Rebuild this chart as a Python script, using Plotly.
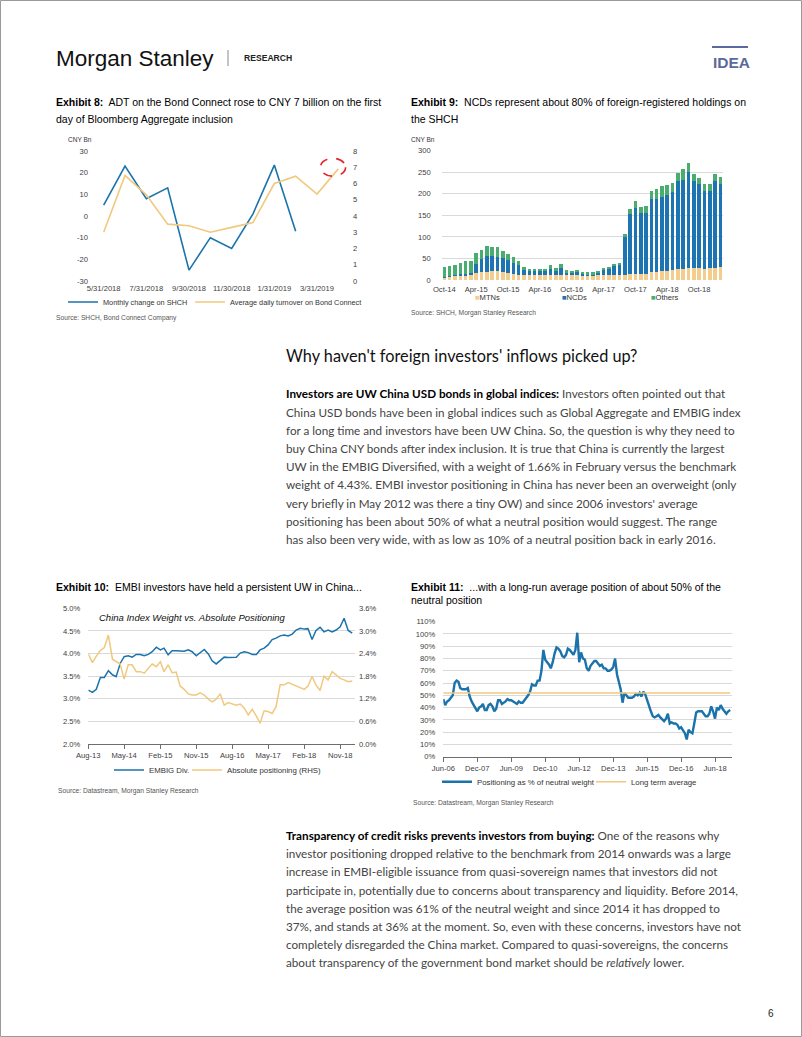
import plotly.graph_objects as go
import pandas as pd

W, H = 802, 1037


def px(x):
    return x / W


def py(y):
    return 1 - y / H


# ---------------- DATA ----------------
# Exhibit 8
ex8_dates = ["5/31/2018", "6/30/2018", "7/31/2018", "8/31/2018", "9/30/2018", "10/31/2018",
             "11/30/2018", "12/31/2018", "1/31/2019", "2/28/2019", "3/31/2019", "4/30/2019"]
ex8_shch_change = [5, 23, 8, 13, -25, -10, -15, 1, 23.5, -7, None, None]
ex8_daily_turnover = [3.0, 6.5, 5.3, 3.5, 3.4, 3.0, 3.3, 3.6, 6.0, 6.45, 5.35, 6.9]
ex8_left_ticks = [-30, -20, -10, 0, 10, 20, 30]
ex8_right_ticks = [0, 1, 2, 3, 4, 5, 6, 7, 8]

# Exhibit 9 (monthly, Oct-14 .. Feb-19)
ex9_months = pd.date_range("2014-10-01", periods=53, freq="MS").strftime("%b-%y").tolist()
ex9_mtns = [7, 8, 10, 11, 12, 13, 17, 18, 19, 21, 21, 19, 17, 14, 12, 12, 11, 11, 11, 11, 11, 11, 11, 11, 11, 11,
            10, 11, 11, 12, 12, 12, 12, 12, 12, 13, 13, 14, 15, 18, 19, 20, 22, 23, 25, 26, 28, 28, 28, 26, 27,
            28, 30]
ex9_ncds = [1, 1, 1, 2, 2, 3, 20, 30, 37, 35, 33, 32, 29, 25, 22, 11, 11, 9, 9, 9, 15, 11, 17, 8, 8, 7,
            6, 3, 3, 5, 12, 13, 21, 22, 88, 140, 155, 142, 140, 170, 169, 172, 176, 181, 204, 206, 222, 202,
            194, 181, 180, 201, 193]
ex9_others = [23, 23, 24, 27, 29, 28, 25, 21, 22, 21, 22, 16, 14, 14, 11, 7, 4, 5, 5, 5, 8, 6, 9, 4, 3, 5,
              3, 4, 4, 4, 5, 5, 5, 5, 6, 11, 15, 14, 17, 19, 22, 25, 23, 22, 20, 25, 21, 17, 14, 15, 15, 17, 15]
ex9_ticks = ["Oct-14", "Apr-15", "Oct-15", "Apr-16", "Oct-16", "Apr-17", "Oct-17", "Apr-18", "Oct-18"]

# Exhibit 10 (monthly, Aug-13 .. Feb-19)
ex10_embig = [3.19, 3.14, 3.21, 3.47, 3.47, 3.62, 3.53, 3.49, 3.78, 3.93,
              3.95, 3.92, 3.98, 3.98, 3.95, 3.98, 4.04, 4.14, 4.08, 4.12,
              3.97, 4.06, 4.06, 4.06, 4.05, 4.08, 4.04, 3.95, 4.01, 4.09,
              3.99, 3.84, 3.77, 3.84, 3.92, 3.91, 3.92, 3.92, 4.01, 4.04,
              4.02, 3.98, 3.98, 4.08, 4.12, 4.19, 4.31, 4.34, 4.39, 4.41,
              4.39, 4.43, 4.52, 4.56, 4.54, 4.55, 4.31, 4.51, 4.58, 4.48,
              4.52, 4.48, 4.52, 4.59, 4.78, 4.51, 4.45]
ex10_abs_pos = [2.39, 2.16, 2.33, 2.48, 2.56, 2.89, 2.25, 2.18, 2.12, 1.72,
                2.10, 2.10, 1.92, 1.92, 1.88, 2.01, 2.12, 2.05, 2.18, 1.92,
                2.10, 1.89, 1.91, 1.54, 1.45, 1.33, 1.30, 1.30, 1.36, 1.30,
                1.19, 1.12, 1.19, 1.33, 1.03, 1.10, 1.06, 1.03, 1.06, 0.95,
                0.77, 0.92, 0.74, 0.55, 0.88, 0.86, 0.81, 0.99, 1.57, 1.57,
                1.63, 1.58, 1.54, 1.50, 1.45, 1.54, 1.79, 1.57, 1.42, 1.80,
                1.70, 1.92, 1.83, 1.74, 1.70, 1.65, 1.67]
ex10_dates = pd.date_range("2013-08-01", periods=len(ex10_embig), freq="MS")

# Exhibit 11 (monthly, Jun-06 .. Feb-19)
ex11_positioning = [47, 42, 45, 46, 48, 50, 60, 62, 61, 56, 55, 55, 55, 56, 49, 45, 42, 39, 37, 40,
                    41, 43, 38, 38, 42, 43, 41, 37, 39, 46, 46, 43, 44, 45, 47, 46, 46, 45, 44, 43,
                    45, 44, 44, 46, 48, 50, 53, 59, 58, 58, 62, 62, 70, 87, 79, 77, 75, 72, 77, 84,
                    89, 88, 86, 82, 81, 83, 88, 87, 85, 83, 87, 101, 77, 85, 80, 79, 72, 70, 74, 76,
                    78, 78, 76, 74, 75, 72, 72, 70, 70, 71, 73, 80, 67, 62, 55, 44, 52, 50, 48, 48,
                    48, 49, 51, 50, 52, 49, 53, 51, 46, 40, 37, 33, 32, 33, 34, 32, 30, 29, 31, 35,
                    27, 28, 27, 27, 26, 23, 24, 21, 19, 14, 22, 20, 19, 27, 36, 37, 37, 37, 35, 33,
                    33, 35, 41, 37, 31, 40, 38, 42, 39, 37, 35, 37, 38]
ex11_long_term_avg = 51.9
ex11_dates = pd.date_range("2006-06-01", periods=len(ex11_positioning), freq="MS")

# ---------------- STYLE ----------------
BLUE = "#1B73AC"
GOLD = "#F0C97E"
MTN_C = "#F2CD8D"
NCD_C = "#1C74B3"
OTH_C = "#48AD6F"
GRID = "#D9D9D9"
AX = "#6E6E6E"
ARIAL = "Liberation Sans, Arial, Helvetica, sans-serif"
BODY = "Lato, Open Sans, sans-serif"
TICKF = dict(family=ARIAL, size=7.6, color="#404040")

fig = go.Figure()

# Exhibit 8
fig.add_trace(go.Scatter(x=ex8_dates, y=ex8_shch_change, mode="lines", name="Monthly change on SHCH",
                         line=dict(color=BLUE, width=1.6), xaxis="x", yaxis="y", legend="legend"))
fig.add_trace(go.Scatter(x=ex8_dates, y=ex8_daily_turnover, mode="lines",
                         name="Average daily turnover on Bond Connect",
                         line=dict(color=GOLD, width=1.6), xaxis="x", yaxis="y2", legend="legend2"))

# Exhibit 9
for vals, nm, col in [(ex9_mtns, "MTNs", MTN_C), (ex9_ncds, "NCDs", NCD_C), (ex9_others, "Others", OTH_C)]:
    fig.add_trace(go.Bar(x=ex9_months, y=vals, name=nm, marker=dict(color=col, line=dict(width=0)),
                         xaxis="x2", yaxis="y3", showlegend=False))

# Exhibit 10
fig.add_trace(go.Scatter(x=ex10_dates, y=ex10_embig, mode="lines", name="EMBIG Div.",
                         line=dict(color=BLUE, width=1.5), xaxis="x3", yaxis="y4", legend="legend3"))
fig.add_trace(go.Scatter(x=ex10_dates, y=ex10_abs_pos, mode="lines", name="Absolute positioning (RHS)",
                         line=dict(color=GOLD, width=1.5), xaxis="x3", yaxis="y5", legend="legend4"))

# Exhibit 11
fig.add_trace(go.Scatter(x=ex11_dates, y=ex11_positioning, mode="lines", name="Positioning as % of neutral weight",
                         line=dict(color=BLUE, width=2.4), xaxis="x4", yaxis="y6", legend="legend5"))
fig.add_trace(go.Scatter(x=ex11_dates, y=[ex11_long_term_avg] * len(ex11_dates), mode="lines",
                         name="Long term average", line=dict(color=GOLD, width=1.5),
                         xaxis="x4", yaxis="y6", legend="legend6"))

noaxis = dict(showgrid=False, zeroline=False, showline=False, ticks="")


def leg(x, y, size):
    return dict(x=px(x), y=py(y), xanchor="left", yanchor="middle", orientation="h", traceorder="normal",
                font=dict(family=ARIAL, size=size, color="#333"), bgcolor="rgba(0,0,0,0)",
                borderwidth=0, itemwidth=30)


layout = dict(
    template="none",
    width=W, height=H, margin=dict(l=0, r=0, t=0, b=0, pad=0, autoexpand=False),
    autosize=False,
    paper_bgcolor="white", plot_bgcolor="rgba(0,0,0,0)",
    barmode="stack", bargap=0.33,
    showlegend=True,
    # Exhibit 8 axes
    xaxis=dict(domain=[px(93), px(349)], anchor="y", type="category", range=[-0.5, 11.5],
               tickmode="array", tickvals=ex8_dates[::2], tickfont=TICKF, ticklabelstandoff=1, **noaxis),
    yaxis=dict(domain=[py(281), py(151)], anchor="x", range=[-30, 30], tickmode="array",
               tickvals=ex8_left_ticks, ticktext=[str(v) for v in ex8_left_ticks], tickfont=TICKF,
               ticklabelstandoff=4, **noaxis),
    yaxis2=dict(overlaying="y", side="right", anchor="x", range=[0, 8], tickmode="array",
                tickvals=ex8_right_ticks, ticktext=[str(v) for v in ex8_right_ticks], tickfont=TICKF,
                ticklabelstandoff=3, **noaxis),
    # Exhibit 9 axes
    xaxis2=dict(domain=[px(441.7), px(723)], anchor="y3", type="category", range=[-0.5, 52.5],
                tickmode="array", tickvals=ex9_ticks, tickfont=TICKF, ticklabelstandoff=3, **noaxis),
    yaxis3=dict(domain=[py(280), py(150.7)], anchor="x2", range=[0, 300], dtick=50, tickfont=TICKF,
                showgrid=True, gridcolor=GRID, gridwidth=1, zeroline=False, showline=False, ticks="",
                ticklabelstandoff=10),
    # Exhibit 10 axes
    xaxis3=dict(domain=[px(88.3), px(355)], anchor="y4", type="date",
                range=["2013-08-01", "2019-02-22"], tick0="2013-08-01", dtick="M9", tickformat="%b-%y",
                tickfont=TICKF, showgrid=False, zeroline=False, showline=True, linecolor=AX, linewidth=1,
                ticks="outside", ticklen=4, tickcolor=AX, tickwidth=1),
    yaxis4=dict(domain=[py(744), py(608.3)], anchor="x3", range=[2.0, 5.0], dtick=0.5, tickformat=".1f",
                ticksuffix="%", tickfont=TICKF, showgrid=True, gridcolor=GRID, zeroline=False,
                showline=False, ticks="", ticklabelstandoff=7),
    yaxis5=dict(overlaying="y4", side="right", anchor="x3", range=[0, 3.6], dtick=0.6, tickformat=".1f",
                ticksuffix="%", tickfont=TICKF, ticklabelstandoff=3, **noaxis),
    # Exhibit 11 axes
    xaxis4=dict(domain=[px(443.3), px(731.7)], anchor="y6", type="date",
                range=["2006-06-01", "2019-02-25"], tick0="2006-06-01", dtick="M18", tickformat="%b-%y",
                tickfont=TICKF, showgrid=False, zeroline=False, showline=True, linecolor=AX, linewidth=1,
                ticks="outside", ticklen=4, tickcolor=AX, tickwidth=1),
    yaxis6=dict(domain=[py(756.7), py(621.7)], anchor="x4", range=[0, 110], dtick=10, ticksuffix="%",
                tickfont=TICKF, showgrid=True, gridcolor=GRID, zeroline=False, showline=False, ticks="",
                ticklabelstandoff=7),
    legend=leg(63, 302, 7.3),
    legend2=leg(190, 302, 7.3),
    legend3=leg(109, 770, 7.8),
    legend4=leg(187, 770, 7.8),
    legend5=leg(437, 781.7, 7.8),
    legend6=leg(591, 781.7, 7.8),
)
fig.update_layout(**layout)

ann = []


def text(x, y, s, size, family=ARIAL, color="#000", anchor="left"):
    ann.append(dict(xref="paper", yref="paper", x=px(x), y=py(y), text=s, showarrow=False,
                    xanchor=anchor, yanchor="middle", font=dict(family=family, size=size, color=color)))


# Header
text(54, 58, "Morgan Stanley", 22.5, color="#111")
text(242, 58, "<b>RESEARCH</b>", 8.6, color="#222")
text(711, 63, "<b>IDEA</b>", 15.5, color="#5B6A9C")

# Exhibit titles
TF = 10.5
text(54, 102, "<b>Exhibit 8:</b>  ADT on the Bond Connect rose to CNY 7 billion on the first", TF)
text(54, 119, "day of Bloomberg Aggregate inclusion", TF)
text(409, 102, "<b>Exhibit 9:</b>  NCDs represent about 80% of foreign-registered holdings on", TF)
text(409, 119, "the SHCH", TF)
text(54, 587, "<b>Exhibit 10:</b>  EMBI investors have held a persistent UW in China...", TF)
text(409, 587, "<b>Exhibit 11:</b>  ...with a long-run average position of about 50% of the", TF)
text(409, 600, "neutral position", TF)

# Chart unit labels
text(66, 140, "CNY Bn", 6.5, color="#333")
text(409, 140, "CNY Bn", 6.5, color="#333")

# Exhibit 9 legend (small square keys)
for xx, nm, col in [(473, "MTNs", MTN_C), (560, "NCDs", NCD_C), (649, "Others", OTH_C)]:
    text(xx, 297.7, f"<span style='color:{col}'>■</span>{nm}", 7.6, color="#333")

# Exhibit 10 inner title
text(97, 617, "<i>China Index Weight vs. Absolute Positioning</i>", 9.5, color="#111")

# Sources
SF = 6.7
text(54, 318, "Source: SHCH, Bond Connect Company", SF, color="#555")
text(409, 313, "Source: SHCH, Morgan Stanley Research", SF, color="#555")
text(56, 790.7, "Source: Datastream, Morgan Stanley Research", SF, color="#555")
text(411, 803, "Source: Datastream, Morgan Stanley Research", SF, color="#555")

# Heading & body text
text(284, 355, "Why haven't foreign investors' inflows picked up?", 16.3, family=BODY, color="#111")

BF = 11.7
BC = "#444"
para1 = [
    "<b style='color:#000'>Investors are UW China USD bonds in global indices:</b> Investors often pointed out that",
    "China USD bonds have been in global indices such as Global Aggregate and EMBIG index",
    "for a long time and investors have been UW China. So, the question is why they need to",
    "buy China CNY bonds after index inclusion. It is true that China is currently the largest",
    "UW in the EMBIG Diversified, with a weight of 1.66% in February versus the benchmark",
    "weight of 4.43%. EMBI investor positioning in China has never been an overweight (only",
    "very briefly in May 2012 was there a tiny OW) and since 2006 investors' average",
    "positioning has been about 50% of what a neutral position would suggest. The range",
    "has also been very wide, with as low as 10% of a neutral position back in early 2016.",
]
for i, ln in enumerate(para1):
    text(284, 393.3 + 18.2 * i, ln, BF, family=BODY, color=BC)

para2 = [
    "<b style='color:#000'>Transparency of credit risks prevents investors from buying:</b> One of the reasons why",
    "investor positioning dropped relative to the benchmark from 2014 onwards was a large",
    "increase in EMBI-eligible issuance from quasi-sovereign names that investors did not",
    "participate in, potentially due to concerns about transparency and liquidity. Before 2014,",
    "the average position was 61% of the neutral weight and since 2014 it has dropped to",
    "37%, and stands at 36% at the moment. So, even with these concerns, investors have not",
    "completely disregarded the China market. Compared to quasi-sovereigns, the concerns",
    "about transparency of the government bond market should be <i>relatively</i> lower.",
]
for i, ln in enumerate(para2):
    text(284, 835 + 18.2 * i, ln, BF, family=BODY, color=BC)

text(771, 1013, "6", 10, color="#222", anchor="center")

shapes = [
    # page frame
    dict(type="rect", xref="paper", yref="paper", x0=px(0.5), x1=px(801.5), y0=py(1036.5), y1=py(0.5),
         line=dict(color="#9A9A9A", width=1)),
    # header separator
    dict(type="line", xref="paper", yref="paper", x0=px(228), x1=px(228), y0=py(66), y1=py(50),
         line=dict(color="#8A8A8A", width=1)),
    # IDEA bar
    dict(type="line", xref="paper", yref="paper", x0=px(712), x1=px(748), y0=py(47), y1=py(47),
         line=dict(color="#5B6A9C", width=2)),
    # red dashed highlight around the last turnover reading
    dict(type="circle", xref="x", yref="y2",
         x0=len(ex8_dates) - 1 - 0.84, x1=len(ex8_dates) - 1 + 0.34,
         y0=ex8_daily_turnover[-1] - 0.45, y1=ex8_daily_turnover[-1] + 0.65,
         line=dict(color="#E2252B", width=1.6, dash="dash")),
]

fig.update_layout(annotations=ann, shapes=shapes)
fig.write_html("out.html", config={"responsive": False, "displayModeBar": False},
               post_script="document.body.style.margin='0px';")
